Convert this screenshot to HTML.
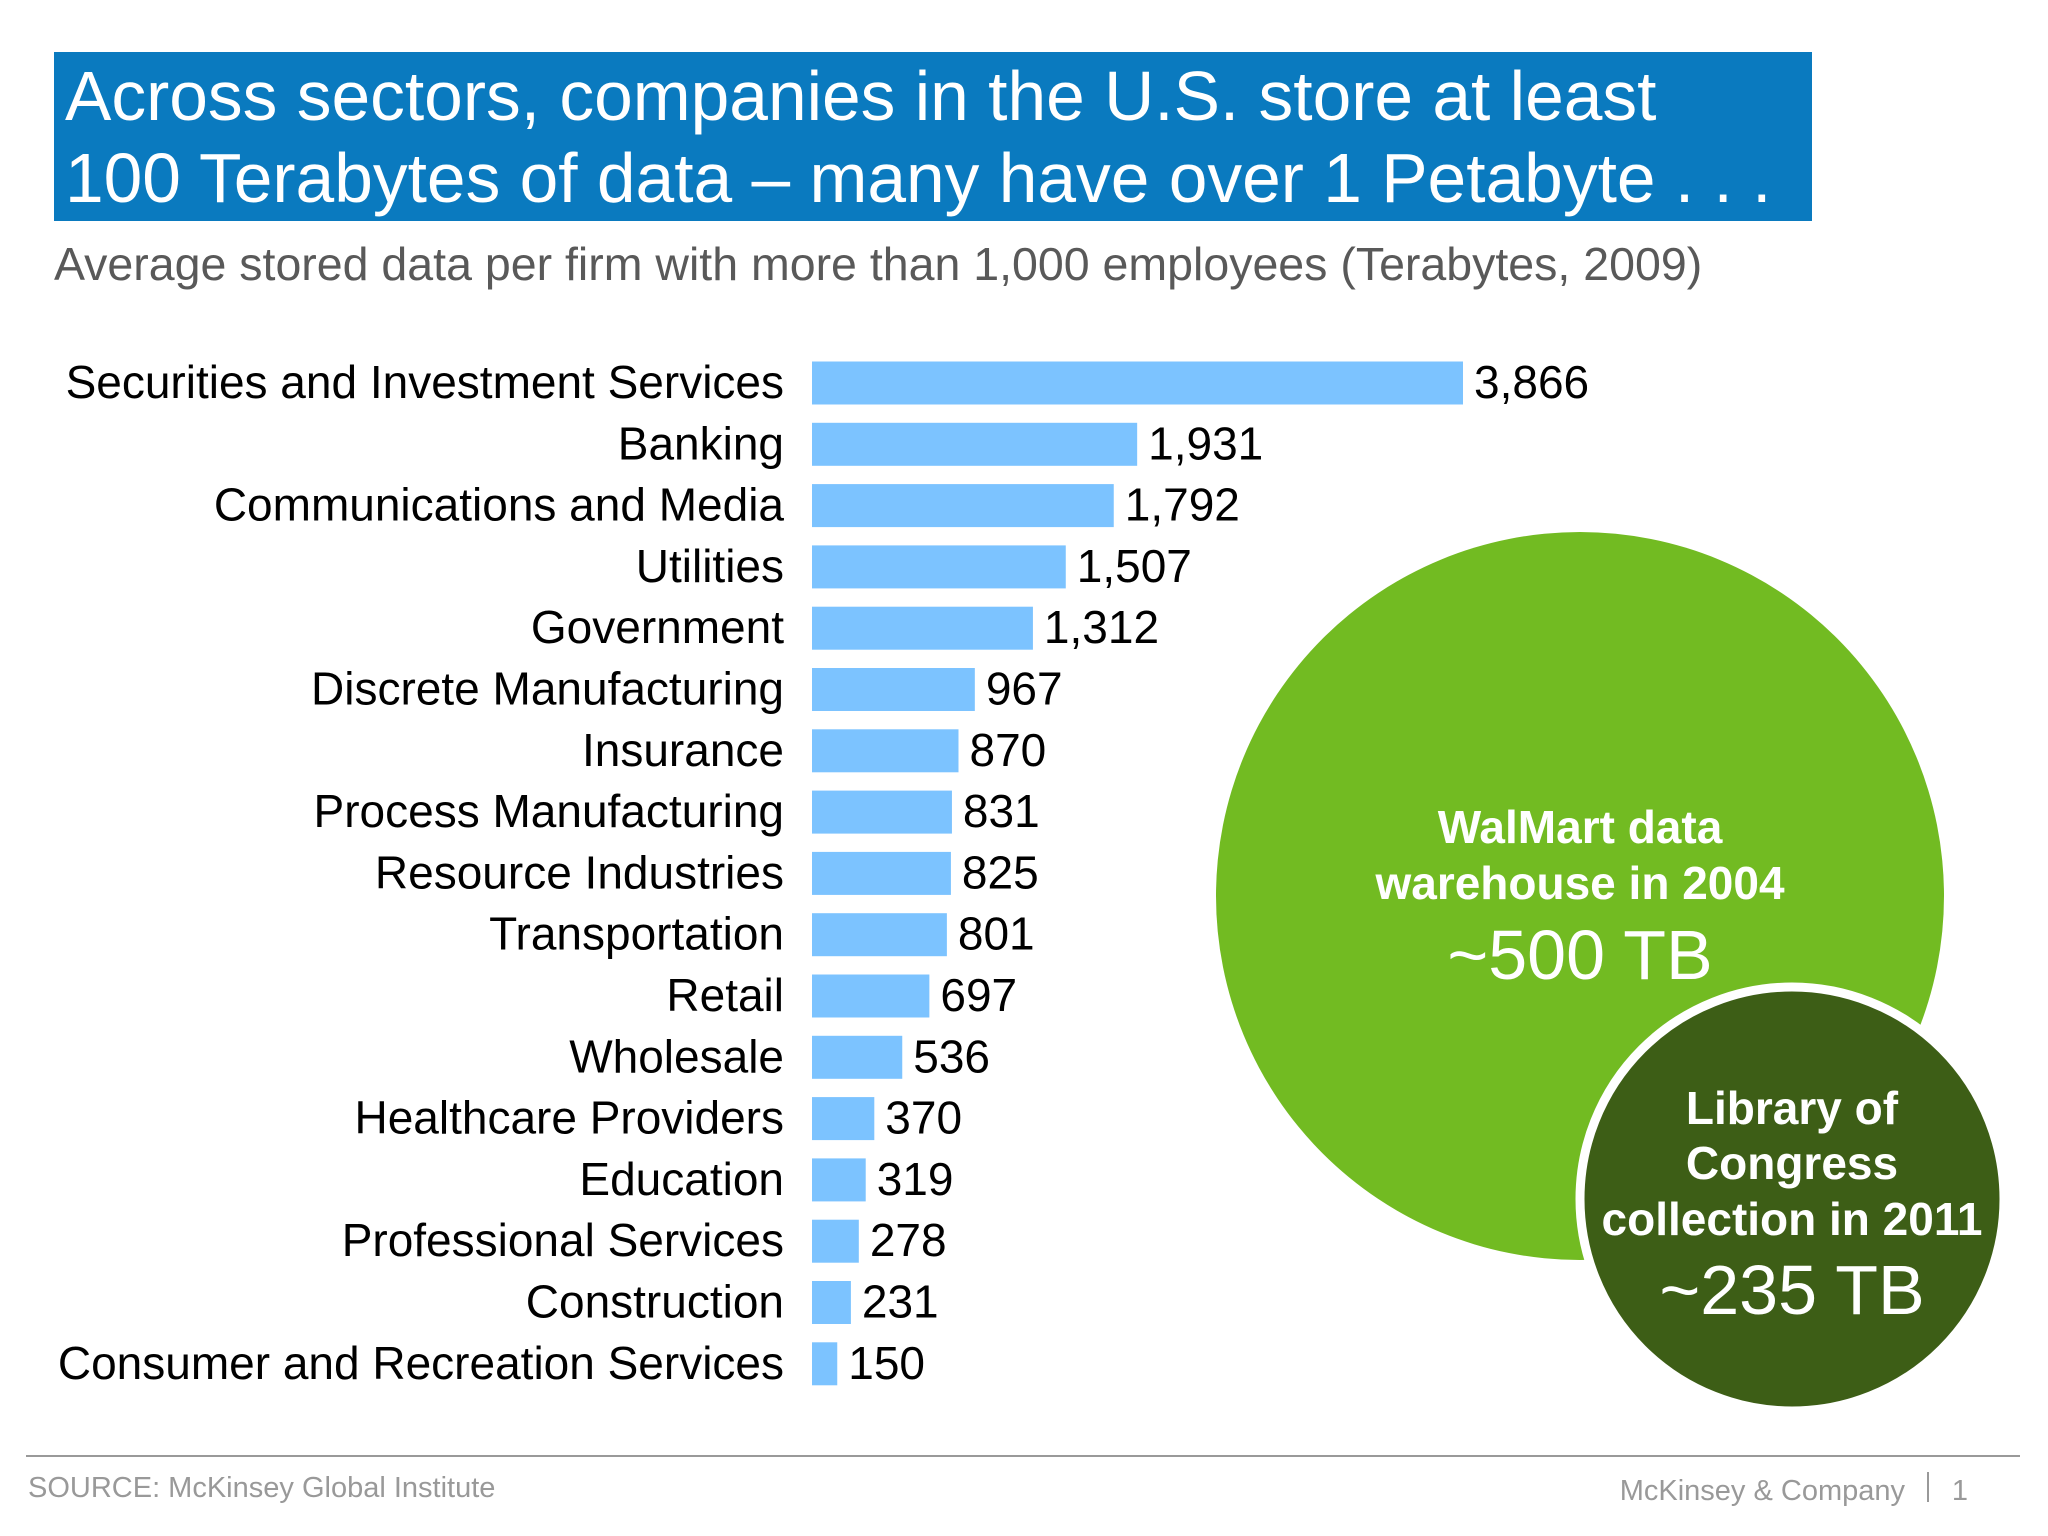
<!DOCTYPE html>
<html><head><meta charset="utf-8"><style>
body{margin:0;width:2048px;height:1536px;background:#fff;font-family:"Liberation Sans",sans-serif;overflow:hidden;position:relative}
.abs{position:absolute}
</style></head><body>
<div class="abs" style="left:54px;top:52px;width:1758px;height:169px;background:#0a7abf"></div>
<div class="abs" style="left:65px;top:55px;color:#fff;font-size:69.5px;line-height:82px;white-space:nowrap">Across sectors, companies in the U.S. store at least<br>100 Terabytes of data – many have over 1 Petabyte . . .</div>
<div class="abs" style="left:54px;top:237px;color:#595959;font-size:46.5px;white-space:nowrap">Average stored data per firm with more than 1,000 employees (Terabytes, 2009)</div>
<svg class="abs" style="left:0;top:0" width="2048" height="1536" id="chart">
<circle cx="1580" cy="896" r="364" fill="#72bb22"/>
<text x="1580" y="843" text-anchor="middle" fill="#fff" font-size="46" font-weight="bold" font-family="Liberation Sans">WalMart data</text>
<text x="1580" y="899" text-anchor="middle" fill="#fff" font-size="46" font-weight="bold" font-family="Liberation Sans">warehouse in 2004</text>
<text x="1580" y="979" text-anchor="middle" fill="#fff" font-size="70" font-family="Liberation Sans">~500 TB</text>
<circle cx="1792" cy="1199" r="212" fill="#3d5e16" stroke="#fff" stroke-width="9"/>
<text x="1792" y="1124" text-anchor="middle" fill="#fff" font-size="46" font-weight="bold" font-family="Liberation Sans">Library of</text>
<text x="1792" y="1179" text-anchor="middle" fill="#fff" font-size="46" font-weight="bold" font-family="Liberation Sans">Congress</text>
<text x="1792" y="1235" text-anchor="middle" fill="#fff" font-size="46" font-weight="bold" font-family="Liberation Sans">collection in 2011</text>
<text x="1792" y="1314" text-anchor="middle" fill="#fff" font-size="70" font-family="Liberation Sans">~235 TB</text>
<line x1="26" y1="1456" x2="2020" y2="1456" stroke="#999" stroke-width="2"/>
<text x="28" y="1497" fill="#999" font-size="29" font-family="Liberation Sans">SOURCE: McKinsey Global Institute</text>
<text x="1905" y="1500" text-anchor="end" fill="#999" font-size="29" font-family="Liberation Sans">McKinsey &amp; Company</text>
<line x1="1928" y1="1472" x2="1928" y2="1502" stroke="#999" stroke-width="2"/>
<text x="1960" y="1500" text-anchor="middle" fill="#999" font-size="29" font-family="Liberation Sans">1</text>
</svg>
<script>
const categories=["Securities and Investment Services","Banking","Communications and Media","Utilities","Government","Discrete Manufacturing","Insurance","Process Manufacturing","Resource Industries","Transportation","Retail","Wholesale","Healthcare Providers","Education","Professional Services","Construction","Consumer and Recreation Services"];
const values=[3866,1931,1792,1507,1312,967,870,831,825,801,697,536,370,319,278,231,150];
const valueLabels=["3,866","1,931","1,792","1,507","1,312","967","870","831","825","801","697","536","370","319","278","231","150"];
const NS="http://www.w3.org/2000/svg";
const svg=document.getElementById('chart');
const x0=812,xScale=v=>v*651/3866;
const yC=i=>383+i*61.3;
const bh=43;
categories.forEach((c,i)=>{
  const r=document.createElementNS(NS,'rect');
  r.setAttribute('x',x0);r.setAttribute('y',yC(i)-bh/2);
  r.setAttribute('width',xScale(values[i]));r.setAttribute('height',bh);
  r.setAttribute('fill','#7cc3ff');
  
  
  svg.appendChild(r);
  const t=document.createElementNS(NS,'text');
  t.setAttribute('x',784);t.setAttribute('y',yC(i)+15);
  t.setAttribute('text-anchor','end');t.setAttribute('font-size','46');
  t.setAttribute('font-family','Liberation Sans');t.setAttribute('fill','#000');
  t.textContent=c;
  
  
  svg.appendChild(t);
  const v=document.createElementNS(NS,'text');
  v.setAttribute('x',x0+xScale(values[i])+11);v.setAttribute('y',yC(i)+15);
  v.setAttribute('font-size','46');v.setAttribute('font-family','Liberation Sans');v.setAttribute('fill','#000');
  v.textContent=valueLabels[i];
  
  
  svg.appendChild(v);
});
</script>
</body></html>
